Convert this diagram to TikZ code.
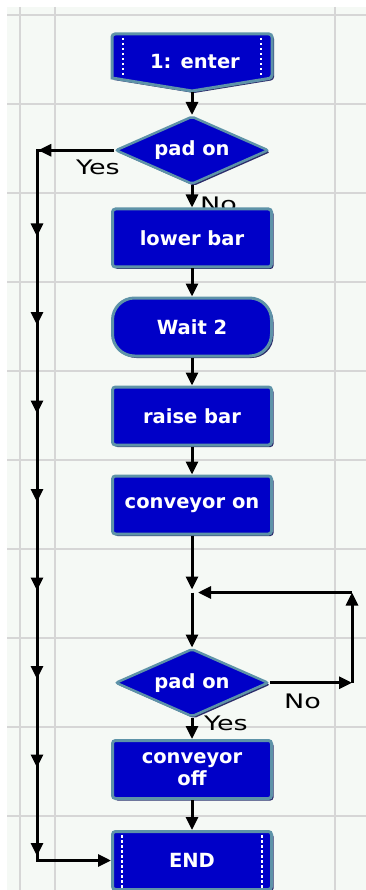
\documentclass[tikz,border=0pt]{standalone}
\usepackage{fontspec}
\newfontfamily\flowfont{DejaVu Sans}
\newfontfamily\tagfont[FakeStretch=1.35]{DejaVu Sans}
\usepackage{tikz}
\usetikzlibrary{positioning,arrows.meta,shapes.geometric,decorations.markings,shadows}
\usepackage{xcolor}

\definecolor{boxblue}{RGB}{0,0,200}
\definecolor{boxedge}{RGB}{94,147,168}
\definecolor{boxshade}{RGB}{43,43,107}
\definecolor{paper}{RGB}{245,249,245}
\definecolor{gridline}{RGB}{214,214,214}

\begin{document}
\begin{tikzpicture}[
                x=1pt, y=-1pt,
                node distance=28pt,
                flowbox/.style={draw=boxedge, fill=boxblue, line width=3pt, rounded corners=3pt,
                    minimum width=159pt, minimum height=58pt, text=white, align=center,
                    font=\flowfont\bfseries\fontsize{19.5}{22}\selectfont,
                    drop shadow={shadow xshift=2pt, shadow yshift=-2pt, fill=boxshade, opacity=1}},
                decision/.style={flowbox, diamond, aspect=2.2, inner sep=0pt, line width=2.5pt,
                    minimum width=153pt, minimum height=68pt, rounded corners=2pt},
                waitbox/.style={flowbox, rounded corners=22pt},
                flow/.style={line width=3pt, -{Triangle[length=13pt,width=12pt]}},
                tag/.style={font=\tagfont\fontsize{20}{22}\selectfont, inner sep=0pt},
                edgedash/.style={white, line width=2.5pt, dash pattern=on 2.5pt off 2.5pt},
                trunkmarks/.style={postaction={decorate}, decoration={markings,
                    mark=at position 76pt with {\arrow{Triangle[length=13pt,width=12pt]}},
                    mark=between positions 163.5pt and 785pt step 88.5pt with {\arrow{Triangle[length=13pt,width=12pt]}}}}
            ]
                \useasboundingbox (0,0) rectangle (366,890);

                % Sheet and grid
                \fill[white] (0,0) rectangle (366,890);
                \fill[paper] (7,7) rectangle (366,890);
                \foreach \gy in {15,104,...,816}
                    \draw[gridline, line width=1.5pt] (7,\gy) -- (366,\gy);
                \foreach \gx in {20,55,335}
                    \draw[gridline, line width=1.5pt] (\gx,7) -- (\gx,890);

                % Start block
                \filldraw[draw=boxedge, fill=boxblue, line width=3pt, rounded corners=3pt,
                    drop shadow={shadow xshift=2pt, shadow yshift=-2pt, fill=boxshade, opacity=1}]
                    (112,34) -- (272,34) -- (272,78) [sharp corners] -- (192,91) -- (112,78) [rounded corners=3pt] -- cycle;
                \draw[edgedash] (123,38) -- (123,76);
                \draw[edgedash] (261,38) -- (261,76);
                \coordinate (entertip) at (192,92);
                \node[text=white, font=\flowfont\bfseries\fontsize{19.5}{22}\selectfont] (enter) at (195,62) {1: enter};

                % Main column
                \node[decision, below=23pt of entertip] (pad1) {pad on};
                \node[tag, anchor=base west] (yes1) at (76,175) {Yes};
                \node[tag, anchor=base west] (no1) at (200,212) {No};
                \node[flowbox, below=22pt of pad1] (lower) {lower bar};
                \node[waitbox, below=of lower] (wait) {Wait 2};
                \node[flowbox, below=of wait] (raise) {raise bar};
                \node[flowbox, below=of raise] (convon) {conveyor on};
                \coordinate[below=57pt of convon] (join);
                \node[decision, below=55pt of join] (pad2) {pad on};
                \node[tag, anchor=base west] (no2) at (284,708) {No};
                \node[tag, anchor=base west] (yes2) at (204,730) {Yes};
                \node[flowbox, below=21pt of pad2] (convoff) {conveyor\\off};
                \node[flowbox, below=30pt of convoff] (end) {END};
                \draw[edgedash] ([xshift=11pt,yshift=-5pt]end.north west) -- ([xshift=11pt]end.south west);
                \draw[edgedash] ([xshift=-11pt,yshift=-5pt]end.north east) -- ([xshift=-11pt]end.south east);

                \draw[flow] (entertip) -- (pad1);
                \draw[flow] (pad1) -- (lower);
                \draw[flow] (lower) -- (wait);
                \draw[flow] (wait) -- (raise);
                \draw[flow] (raise) -- (convon);
                \draw[flow, shorten >=3pt] (convon) -- (join);
                \draw[flow] (join) -- (pad2);
                \draw[flow] (pad2) -- (convoff);
                \draw[flow] (convoff) -- (end);

                % Wait loop on "No"
                \coordinate (loopx) at (352,0);
                \draw[flow] (pad2.east) -- (pad2.east -| loopx);
                \draw[flow] (pad2.east -| loopx) -- (join -| loopx);
                \draw[flow, shorten >=6pt] (join -| loopx) -- (join);

                % Skip line on "Yes"
                \coordinate (trunkx) at (37,0);
                \draw[flow, trunkmarks] (pad1.west) -- (pad1.west -| trunkx) -- (end.west -| trunkx) -- (end.west);
            \end{tikzpicture}
\end{document}
